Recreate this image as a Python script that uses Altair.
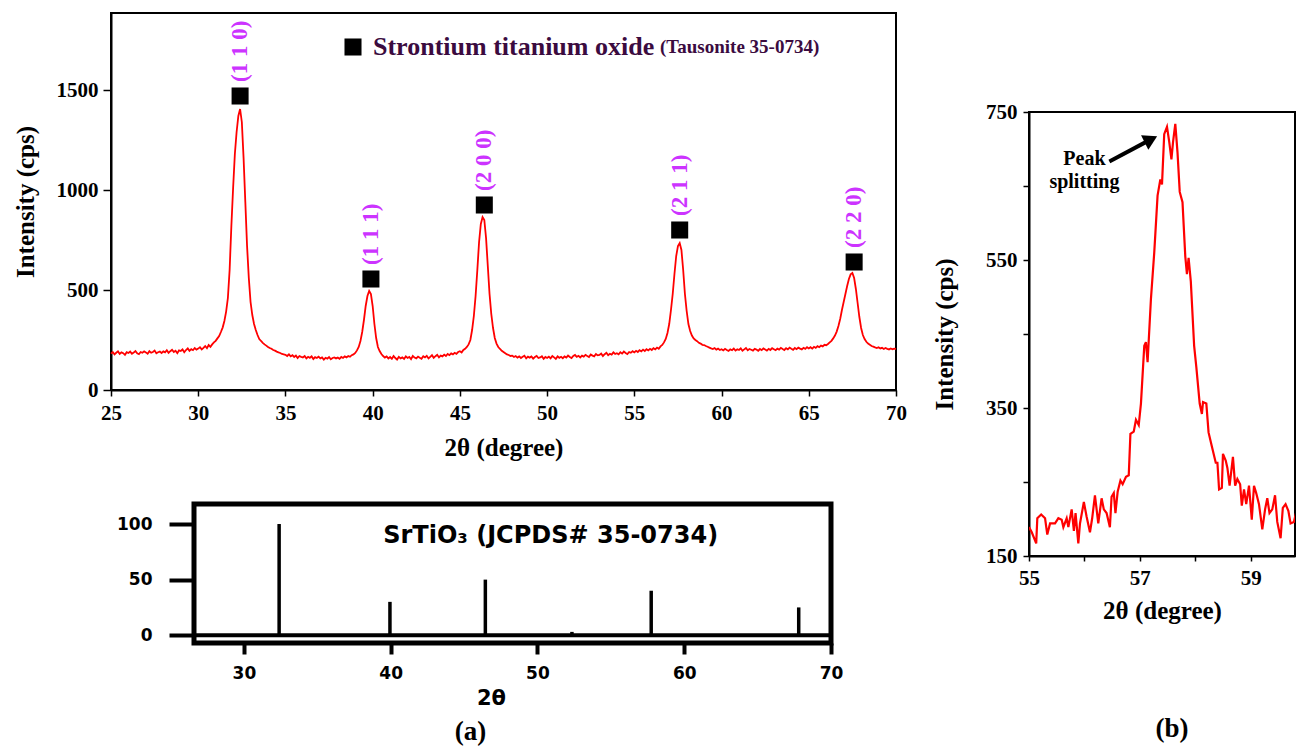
import altair as alt
import numpy as np
import pandas as pd

SERIF = "Liberation Serif"
SANS = "DejaVu Sans"

# ---------------- (a) measured XRD pattern (2theta sampled every 0.1 deg) ----------------
two_theta_a = np.round(np.arange(25.0, 70.05, 0.1), 1)
intensity_a = [
    182, 190, 178, 186, 193, 180, 188, 184, 176, 189,   # 25
    185, 192, 181, 187, 195, 183, 179, 190, 186, 193,   # 26
    188, 181, 194, 186, 190, 197, 184, 189, 192, 185,   # 27
    193, 188, 199, 186, 194, 201, 190, 196, 184, 198,   # 28
    195, 203, 189, 200, 208, 196, 204, 199, 210, 202,   # 29
    207, 214, 203, 211, 220, 209, 225, 216, 228, 238,   # 30
    246, 258, 270, 290, 312, 345, 392, 460, 600, 820,   # 31
    1010, 1180, 1290, 1370, 1405, 1340, 1160, 940, 720, 560,  # 32
    440, 375, 330, 300, 275, 255, 245, 236, 228, 222,   # 33
    215, 210, 206, 200, 197, 192, 188, 185, 180, 178,   # 34
    176, 170, 178, 168, 174, 165, 172, 160, 170, 166,   # 35
    163, 170, 158, 166, 161, 168, 155, 164, 160, 167,   # 36
    158, 163, 152, 161, 157, 165, 154, 160, 163, 158,   # 37
    162, 156, 165, 160, 168, 163, 170, 166, 174, 178,   # 38
    185, 198, 215, 245, 290, 350, 420, 470, 495, 480,   # 39
    420, 330, 260, 215, 195, 180, 170, 162, 168, 158,   # 40
    165, 156, 170, 160, 152, 166, 158, 163, 155, 168,   # 41
    160, 165, 154, 170, 162, 158, 167, 161, 156, 169,   # 42
    163, 171, 158, 166, 174, 161, 169, 176, 163, 172,   # 43
    168, 177, 170, 180, 174, 183, 178, 186, 181, 190,   # 44
    194, 188, 200, 206, 215, 228, 250, 300, 370, 470,   # 45
    600, 740, 830, 865, 850, 760, 620, 480, 380, 310,   # 46
    260, 232, 215, 205, 196, 190, 184, 178, 175, 170,   # 47
    172, 165, 170, 162, 168, 160, 166, 171, 158, 167,   # 48
    162, 168, 157, 165, 170, 160, 163, 169, 156, 165,   # 49
    160, 167, 158, 170, 163, 155, 168, 161, 166, 159,   # 50
    168, 162, 172, 165, 160, 170, 175, 166, 171, 163,   # 51
    172, 167, 176, 170, 165, 178, 172, 168, 180, 173,   # 52
    175, 182, 170, 179, 186, 174, 181, 177, 188, 180,   # 53
    184, 178, 189, 182, 192, 185, 180, 190, 186, 194,   # 54
    188, 196, 190, 199, 193, 202, 195, 204, 198, 206,   # 55
    200, 209, 203, 212, 206, 218, 225, 238, 255, 285,   # 56
    330, 400, 480, 580, 670, 720, 735, 700, 600, 480,   # 57
    395, 330, 295, 272, 258, 250, 244, 236, 232, 226,   # 58
    225, 220, 216, 212, 208, 205, 210, 202, 207, 200,   # 59
    204, 198, 206, 200, 195, 203, 199, 207, 197, 204,   # 60
    200, 208, 196, 203, 210, 199, 205, 201, 197, 206,   # 61
    202, 196, 205, 199, 208, 203, 197, 206, 200, 209,   # 62
    204, 199, 207, 202, 211, 205, 200, 209, 203, 212,   # 63
    206, 201, 210, 204, 212, 207, 203, 211, 206, 214,   # 64
    208, 214, 207, 216, 211, 219, 214, 222, 218, 226,   # 65
    224, 230, 238, 246, 258, 272, 292, 320, 355, 400,   # 66
    440, 480, 520, 555, 578, 585, 560, 505, 435, 365,   # 67
    310, 275, 255, 241, 232, 226, 220, 217, 213, 210,   # 68
    214, 208, 211, 205, 210, 206, 203, 208, 204, 207,   # 69
    205,                                                # 70
]

peak_2theta = [32.4, 39.9, 46.4, 57.6, 67.6]
peak_marker = [1470, 555, 925, 800, 640]
peak_hkl = ["(1 1 0)", "(1 1 1)", "(2 0 0)", "(2 1 1)", "(2 2 0)"]
phase_name = "Strontium titanium oxide"
phase_card = "(Tausonite 35-0734)"

# ---------------- (a) reference stick pattern ----------------
ref_2theta = [32.4, 39.95, 46.45, 52.35, 57.75, 67.8]
ref_intensity = [100, 30, 50, 3, 40, 25]
ref_label = "SrTiO₃ (JCPDS# 35-0734)"
ref_label_pos = [50.9, 89]

# ---------------- (b) zoom on the (2 1 1) reflection ----------------
two_theta_b = [55.0, 55.05, 55.13, 55.15, 55.22, 55.29, 55.33, 55.38, 55.47, 55.53,
               55.59, 55.62, 55.68, 55.71, 55.77, 55.81, 55.84, 55.89, 55.92, 55.99,
               56.04, 56.1, 56.14, 56.19, 56.25, 56.31, 56.35, 56.4, 56.46, 56.49,
               56.53, 56.56, 56.6, 56.65, 56.69, 56.75, 56.8, 56.83, 56.89, 56.93,
               56.98, 57.02, 57.08, 57.11, 57.14, 57.2, 57.26, 57.32, 57.37, 57.4,
               57.44, 57.49, 57.53, 57.57, 57.6, 57.64, 57.68, 57.72, 57.77, 57.82,
               57.85, 57.88, 57.92, 57.98, 58.02, 58.08, 58.12, 58.14, 58.2, 58.24,
               58.3, 58.37, 58.4, 58.43, 58.48, 58.5, 58.55, 58.58, 58.62, 58.68,
               58.72, 58.76, 58.81, 58.84, 58.88, 58.92, 58.97, 59.02, 59.06, 59.1,
               59.15, 59.21, 59.26, 59.3, 59.34, 59.39, 59.44, 59.48, 59.54, 59.58,
               59.63, 59.68, 59.72, 59.78, 59.84, 59.88, 59.92, 59.96]
intensity_b = [189, 182, 167, 201, 206, 201, 179, 194, 194, 201,
               199, 189, 201, 189, 213, 184, 208, 167, 194, 223,
               203, 182, 201, 232, 194, 228, 213, 208, 189, 230,
               235, 208, 237, 252, 247, 257, 259, 315, 318, 334,
               327, 356, 434, 439, 412, 497, 560, 637, 659, 652,
               720, 730, 710, 686, 710, 734, 695, 642, 628, 555,
               531, 553, 521, 434, 405, 356, 342, 358, 356, 317,
               298, 276, 276, 240, 242, 288, 279, 269, 245, 284,
               245, 254, 247, 218, 240, 220, 245, 199, 245, 235,
               220, 186, 213, 228, 208, 213, 232, 196, 174, 215,
               220, 211, 194, 196, 215, 218, 184, 215]
note_text = ["Peak", "splitting"]
note_pos = [56.0, 687]
arrow_tail = [56.45, 683]
arrow_head = [57.2, 713]

# ====================== build charts ======================
serif_axis = dict(labelFont=SERIF, labelFontWeight="bold", labelFontSize=21, labelColor="black",
                  titleFont=SERIF, titleFontWeight="bold", titleFontSize=25, titleColor="black",
                  domainColor="black", domainWidth=2, tickColor="black", tickWidth=1.5,
                  grid=False, labelFlush=False, labelOverlap=False, format="d")

# ---- main pattern (a)
df_a = pd.DataFrame({"tt": two_theta_a, "I": intensity_a})
df_pk = pd.DataFrame({"tt": peak_2theta, "I": peak_marker, "hkl": peak_hkl,
                      "phase": [phase_name] * len(peak_2theta)})

sc_xa = alt.Scale(domain=[25, 70], nice=False)
sc_ya = alt.Scale(domain=[0, 1885], nice=False)
ax_xa = alt.Axis(values=list(range(25, 71, 5)), title="2θ (degree)", tickSize=6,
                 labelPadding=6, titlePadding=12, **serif_axis)
ax_ya = alt.Axis(values=[0, 500, 1000, 1500], title="Intensity (cps)", tickSize=8,
                 labelPadding=5, titlePadding=18, **serif_axis)

line_a = alt.Chart(df_a).mark_line(color="#ff0000", strokeWidth=1.8).encode(
    x=alt.X("tt:Q", scale=sc_xa, axis=ax_xa),
    y=alt.Y("I:Q", scale=sc_ya, axis=ax_ya),
)
squares = alt.Chart(df_pk).mark_square(size=290, opacity=1).encode(
    x=alt.X("tt:Q", scale=sc_xa, axis=ax_xa),
    y=alt.Y("I:Q", scale=sc_ya, axis=ax_ya),
    color=alt.Color("phase:N", scale=alt.Scale(domain=[phase_name], range=["black"]),
                    legend=alt.Legend(title=phase_card, titleOrient="right", orient="none",
                                      legendX=229, legendY=21, padding=0,
                                      symbolType="square", symbolSize=290, symbolStrokeWidth=0,
                                      labelFont=SERIF, labelFontWeight="bold", labelFontSize=26,
                                      labelColor="#3b0b3f", labelOffset=7, labelLimit=500,
                                      titleFont=SERIF, titleFontWeight="bold", titleFontSize=19,
                                      titleColor="#3b0b3f", titlePadding=6, titleBaseline="middle",
                                      titleLimit=400)),
)
hkl_text = alt.Chart(df_pk).transform_calculate(ly="datum.I + 70").mark_text(
    angle=270, align="left", baseline="middle", color="#cc33ff",
    font=SERIF, fontWeight="bold", fontSize=23,
).encode(
    x=alt.X("tt:Q", scale=sc_xa, axis=ax_xa),
    y=alt.Y("ly:Q", scale=sc_ya, axis=ax_ya),
    text="hkl:N",
)
main = alt.layer(line_a, squares, hkl_text).properties(
    width=785, height=377, view=alt.ViewBackground(stroke="black", strokeWidth=2))

# ---- reference sticks (a)
sans_axis = dict(labelFont=SANS, labelFontWeight="bold", labelFontSize=17, labelColor="black",
                 titleFont=SANS, titleFontWeight="bold", titleFontSize=21, titleColor="black",
                 domain=False, tickColor="black", tickWidth=4, grid=False,
                 labelFlush=False, labelOverlap=False)
sc_xr = alt.Scale(domain=[26.6, 70], nice=False)
sc_yr = alt.Scale(domain=[-7, 118], nice=False)
ax_xr = alt.Axis(values=[30, 40, 50, 60, 70], title="2θ", tickSize=11, labelPadding=11,
                 titlePadding=6, titleX=297, **sans_axis)
ax_yr = alt.Axis(values=[0, 50, 100], title=None, tickSize=25, labelPadding=17, **sans_axis)

df_ref = pd.DataFrame({"tt": ref_2theta, "rel": ref_intensity, "base": [0] * len(ref_2theta)})
sticks = alt.Chart(df_ref).mark_rule(color="black", strokeWidth=3.5).encode(
    x=alt.X("tt:Q", scale=sc_xr, axis=ax_xr),
    y=alt.Y("base:Q", scale=sc_yr, axis=ax_yr),
    y2="rel:Q",
)
zero_line = alt.Chart(pd.DataFrame({"base": [0]})).mark_rule(color="black", strokeWidth=4).encode(
    y=alt.Y("base:Q", scale=sc_yr, axis=ax_yr))
ref_txt = alt.Chart(pd.DataFrame({"tt": [ref_label_pos[0]], "base": [ref_label_pos[1]],
                                  "t": [ref_label]})).mark_text(
    font=SANS, fontWeight="bold", fontSize=24, color="black", align="center", baseline="middle"
).encode(x=alt.X("tt:Q", scale=sc_xr, axis=ax_xr), y=alt.Y("base:Q", scale=sc_yr, axis=ax_yr),
         text="t:N")
ref_panel = alt.layer(zero_line, sticks, ref_txt).properties(
    width=637, height=139, view=alt.ViewBackground(stroke="black", strokeWidth=5),
    title=alt.TitleParams("(a)", orient="bottom", font=SERIF, fontSize=27, fontWeight="bold",
                          color="black", offset=11, dx=-42))

# ---- panel (b)
df_b = pd.DataFrame({"tt": two_theta_b, "I": intensity_b})
sc_xb = alt.Scale(domain=[55, 59.8], nice=False)
sc_yb = alt.Scale(domain=[150, 750], nice=False)
ax_xb = alt.Axis(values=[55, 56, 57, 58, 59], labelExpr="datum.value % 2 == 1 ? datum.label : ''",
                 title="2θ (degree)", tickSize=5, labelPadding=6, titlePadding=10, **serif_axis)
ax_yb = alt.Axis(values=[150, 250, 350, 450, 550, 650, 750],
                 labelExpr="(datum.value - 150) % 200 == 0 ? datum.label : ''",
                 title="Intensity (cps)", tickSize=6, labelPadding=6, titlePadding=28, **serif_axis)
line_b = alt.Chart(df_b).mark_line(color="#ff0000", strokeWidth=2.2, clip=True).encode(
    x=alt.X("tt:Q", scale=sc_xb, axis=ax_xb), y=alt.Y("I:Q", scale=sc_yb, axis=ax_yb))
df_arrow = pd.DataFrame({"tt": [arrow_tail[0]], "I": [arrow_tail[1]],
                         "tt2": [arrow_head[0]], "I2": [arrow_head[1]]})
arrow_shaft = alt.Chart(df_arrow).mark_rule(color="black", strokeWidth=4).encode(
    x=alt.X("tt:Q", scale=sc_xb, axis=ax_xb), y=alt.Y("I:Q", scale=sc_yb, axis=ax_yb),
    x2="tt2:Q", y2="I2:Q")
arrow_tip = alt.Chart(df_arrow).mark_point(shape="triangle-right", filled=True, color="black",
                                           size=260, angle=333, opacity=1).encode(
    x=alt.X("tt2:Q", scale=sc_xb, axis=ax_xb), y=alt.Y("I2:Q", scale=sc_yb, axis=ax_yb))
note = alt.Chart(pd.DataFrame({"tt": [note_pos[0]], "I": [note_pos[1]]})).mark_text(
    text=note_text, font=SERIF, fontWeight="bold", fontSize=20, lineHeight=23,
    align="center", baseline="middle", color="black",
).encode(x=alt.X("tt:Q", scale=sc_xb, axis=ax_xb), y=alt.Y("I:Q", scale=sc_yb, axis=ax_yb))
panel_b = alt.layer(line_b, arrow_shaft, arrow_tip, note).properties(
    width=266, height=444, view=alt.ViewBackground(stroke="black", strokeWidth=2),
    title=alt.TitleParams("(b)", orient="bottom", font=SERIF, fontSize=27, fontWeight="bold",
                          color="black", offset=93, dx=10))


def spacer(w, h):
    return alt.Chart(pd.DataFrame({"v": [0]})).mark_point(opacity=0).encode(
        x=alt.value(0), y=alt.value(0)).properties(width=w, height=h)


left_col = alt.vconcat(main, alt.hconcat(spacer(1, 10), ref_panel, spacing=0), spacing=40)
right_col = alt.vconcat(spacer(10, 87), panel_b, spacing=0)

chart = alt.hconcat(left_col, right_col, spacing=23).properties(
    padding={"left": 4, "top": 2, "right": 0, "bottom": 0}
).configure_view(strokeWidth=0).configure_concat(spacing=0)

chart.save("out.html", embed_options={"renderer": "svg", "actions": False})
